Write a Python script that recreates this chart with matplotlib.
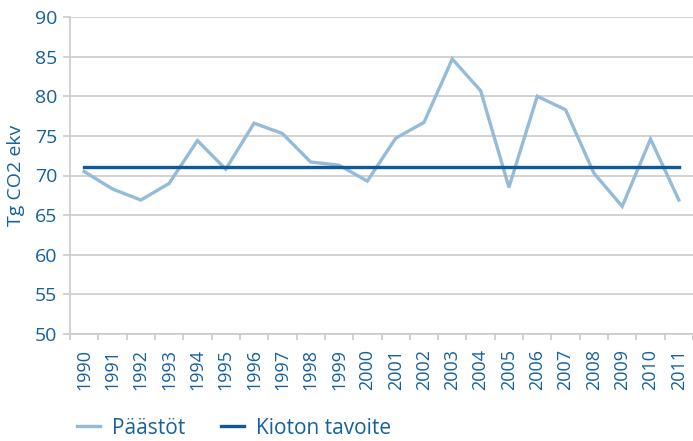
import matplotlib.pyplot as plt
import numpy as np

years = [str(y) for y in range(1990, 2012)]
paastot = [70.5, 68.3, 66.9, 69.0, 74.4, 70.8, 76.6, 75.3, 71.7, 71.3, 69.3,
           74.7, 76.7, 84.7, 80.7, 68.5, 80.0, 78.3, 70.3, 66.1, 74.6, 66.9]
kioto = [71.05] * len(years)
y_ticks = [50, 55, 60, 65, 70, 75, 80, 85, 90]

light = "#94bbd8"
dark = "#0e5a98"
text_col = "#15609f"
grid_col = "#cbcbcb"

plt.rcParams["font.family"] = ["Open Sans", "DejaVu Sans"]

fig = plt.figure(figsize=(6.93, 4.41), dpi=100)
ax = fig.add_axes([70 / 693, 1 - 334 / 441, 623 / 693, 317 / 441])

x = np.arange(len(years))
ax.plot(x, paastot, color=light, lw=2.4, label="Päästöt", solid_joinstyle="miter")
ax.plot(x, kioto, color=dark, lw=2.4, label="Kioton tavoite")

ax.set_xlim(-0.5, len(years) - 0.5)
ax.set_ylim(50, 90)
ax.set_yticks(y_ticks)
ax.yaxis.grid(True, color=grid_col, lw=1.2)
ax.set_axisbelow(True)

ax.set_xticks(x)
ax.set_xticklabels(years, rotation=90, fontsize=13, color=text_col)
ax.set_xticks(np.arange(len(years) + 1) - 0.5, minor=True)
ax.tick_params(axis="x", which="major", length=0, pad=11)
ax.tick_params(axis="x", which="minor", length=4, color=grid_col, width=1.2)
ax.tick_params(axis="y", length=5, color=grid_col, width=1.2, labelsize=14,
               labelcolor=text_col, pad=4)

for side in ["top", "right"]:
    ax.spines[side].set_visible(False)
for side in ["left", "bottom"]:
    ax.spines[side].set_color(grid_col)
    ax.spines[side].set_linewidth(1.2)

ax.set_ylabel("Tg CO2 ekv", fontsize=14, color=text_col, labelpad=7)

fig.legend(loc="center left", bbox_to_anchor=(77 / 693, 1 - 428 / 441), ncol=2,
           frameon=False, fontsize=15, labelcolor=text_col,
           borderaxespad=0, borderpad=0,
           handlelength=1.1, columnspacing=1.7, handletextpad=0.6)

fig.savefig("out.png", dpi=100)
